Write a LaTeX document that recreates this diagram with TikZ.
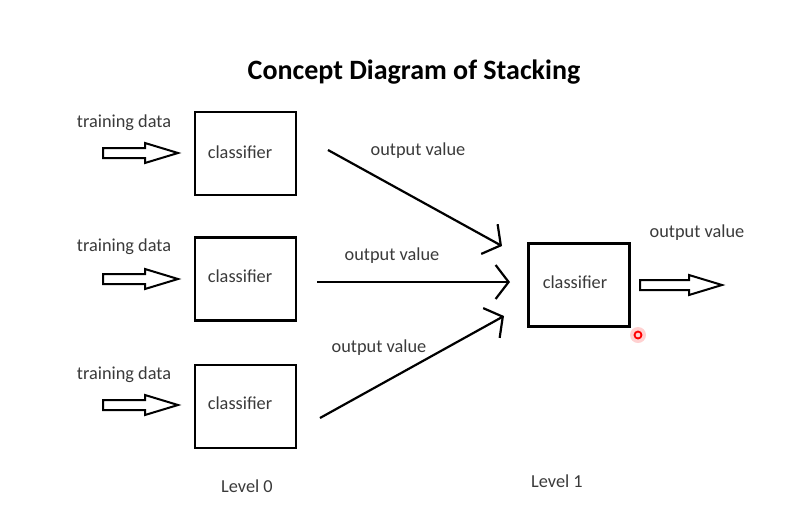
\documentclass[tikz,border=0pt]{standalone}
\usepackage{fontspec}
\setmainfont{Carlito}
\usetikzlibrary{arrows.meta}
\definecolor{txt}{HTML}{3A3A3A}
\tikzset{
  box/.style={draw=black, line width=2.5pt, minimum width=101pt, minimum height=83pt, inner sep=0pt},
  lbl/.style={text=txt, font=\fontsize{18.3}{20}\selectfont, inner sep=0pt},
  ttl/.style={text=black, font=\bfseries\fontsize{28}{30}\selectfont, inner sep=0pt},
  outarrow/.style={line width=2.2pt, -{Straight Barb[length=13pt,width=34pt,line width=2.2pt]}},
  hollow/.style={draw=black, line width=2pt, fill=white, line join=miter}
}
\newcommand{\hollowarrow}[3]{% x start, y, x end
  \pgfmathsetmacro{\hx}{#3-33}
  \draw[hollow] (#1,#2-5) -- (\hx,#2-5) -- (\hx,#2-10) -- (#3,#2) -- (\hx,#2+10) -- (\hx,#2+5) -- (#1,#2+5) -- cycle;
}
\begin{document}
\begin{tikzpicture}[x=1pt,y=-1pt]
\useasboundingbox[fill=white] (0,0) rectangle (812,523);
\node[ttl] (title) at (414,72) {Concept Diagram of Stacking};

\node[box] (c1) at (245.5,153.5) {};
\node[box] (c2) at (245.5,279) {};
\node[box] (c3) at (245.5,406.5) {};
\node[box] (c4) at (579,285) {};
\node[lbl] (t1) at (240,152) {classifier};
\node[lbl] (t2) at (240,276) {classifier};
\node[lbl] (t3) at (240,403) {classifier};
\node[lbl] (t4) at (575,282) {classifier};

\node[lbl] (d1) at (124,123) {training data};
\node[lbl] (d2) at (124,247) {training data};
\node[lbl] (d3) at (124,375) {training data};

\hollowarrow{103}{153}{178}
\hollowarrow{103}{279}{178}
\hollowarrow{103}{405}{178}
\hollowarrow{640}{285}{722}

\coordinate (s1) at (328,150);
\coordinate (s2) at (317,282);
\coordinate (s3) at (320,418);
\coordinate (e1) at (502,246);
\coordinate (e2) at (510,282);
\coordinate (e3) at (504,316);
\draw[outarrow] (s1) -- (e1);
\draw[outarrow] (s2) -- (e2);
\draw[outarrow] (s3) -- (e3);

\node[lbl] (o1) at (418,151) {output value};
\node[lbl] (o2) at (392,256) {output value};
\node[lbl] (o3) at (379,348) {output value};
\node[lbl] (o4) at (697,233) {output value};

\node[lbl] (l0) at (247,486) {Level 0};
\node[lbl] (l1) at (557,481) {Level 1};

\fill[red!18] (638,335) circle (8);
\draw[red, line width=1.8pt] (638,335) circle (3.5);
\end{tikzpicture}
\end{document}
